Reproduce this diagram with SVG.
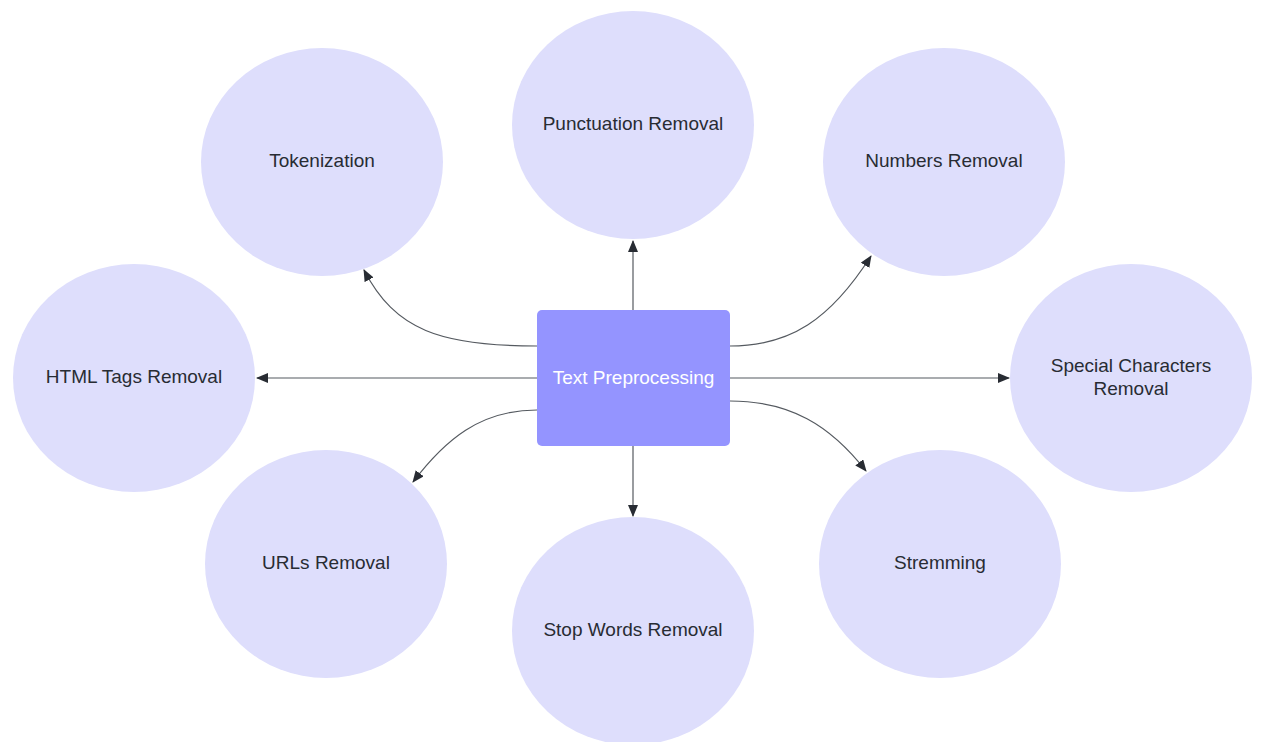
<svg xmlns="http://www.w3.org/2000/svg" width="1261" height="742" viewBox="0 0 1261 742">
  <defs>
    <style>
      .bubble { fill: #dedefc; }
      .hub { fill: #9494ff; }
      .label { font-family: "Liberation Sans", Arial, sans-serif; font-size: 19px; fill: #282c33; text-anchor: middle; dominant-baseline: central; }
      .hub-label { font-family: "Liberation Sans", Arial, sans-serif; font-size: 19px; fill: #ffffff; text-anchor: middle; dominant-baseline: central; }
      .link { fill: none; stroke: #555a60; stroke-width: 1.2; }
    </style>
    <marker id="arrow" viewBox="0 0 12 10" refX="11" refY="5" markerWidth="12" markerHeight="10" markerUnits="userSpaceOnUse" orient="auto">
      <path d="M0,0 L12,5 L0,10 Z" fill="#282c33"/>
    </marker>
  </defs>

  <rect width="1261" height="742" fill="#ffffff"/>

  <!-- connectors from the central step to each technique -->
  <g id="connectors">
    <path class="link" d="M633,310 L633,241" marker-end="url(#arrow)"/>
    <path class="link" d="M633,446 L633,516" marker-end="url(#arrow)"/>
    <path class="link" d="M537,378 L257,378" marker-end="url(#arrow)"/>
    <path class="link" d="M730,378 L1009,378" marker-end="url(#arrow)"/>
    <path class="link" d="M537,346 C440,346 395,330 364,270" marker-end="url(#arrow)"/>
    <path class="link" d="M730,346 C790,346 830,320 871,256" marker-end="url(#arrow)"/>
    <path class="link" d="M537,410 C480,410 445,440 413,482" marker-end="url(#arrow)"/>
    <path class="link" d="M730,401 C790,401 830,425 866,471" marker-end="url(#arrow)"/>
  </g>

  <g id="node-tokenization">
    <ellipse class="bubble" cx="322" cy="162" rx="121" ry="114"/>
    <text class="label" x="322" y="160">Tokenization</text>
  </g>
  <g id="node-punctuation">
    <ellipse class="bubble" cx="633" cy="125" rx="121" ry="114"/>
    <text class="label" x="633" y="123">Punctuation Removal</text>
  </g>
  <g id="node-numbers">
    <ellipse class="bubble" cx="944" cy="162" rx="121" ry="114"/>
    <text class="label" x="944" y="160">Numbers Removal</text>
  </g>
  <g id="node-html">
    <ellipse class="bubble" cx="134" cy="378" rx="121" ry="114"/>
    <text class="label" x="134" y="376">HTML Tags Removal</text>
  </g>
  <g id="node-special">
    <ellipse class="bubble" cx="1131" cy="378" rx="121" ry="114"/>
    <text class="label" x="1131" y="365">Special Characters</text>
    <text class="label" x="1131" y="388">Removal</text>
  </g>
  <g id="node-urls">
    <ellipse class="bubble" cx="326" cy="564" rx="121" ry="114"/>
    <text class="label" x="326" y="562">URLs Removal</text>
  </g>
  <g id="node-stopwords">
    <ellipse class="bubble" cx="633" cy="631" rx="121" ry="114"/>
    <text class="label" x="633" y="629">Stop Words Removal</text>
  </g>
  <g id="node-stemming">
    <ellipse class="bubble" cx="940" cy="564" rx="121" ry="114"/>
    <text class="label" x="940" y="562">Stremming</text>
  </g>

  <g id="node-text-preprocessing">
    <rect class="hub" x="537" y="310" width="193" height="136" rx="5" ry="5"/>
    <text class="hub-label" x="633.5" y="377">Text Preprocessing</text>
  </g>
</svg>
